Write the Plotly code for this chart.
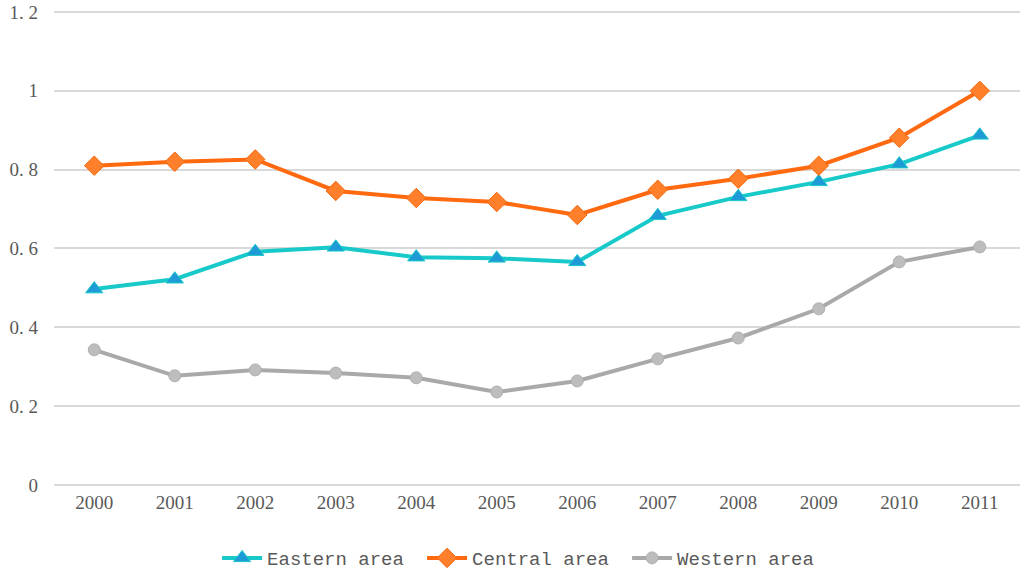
import plotly.graph_objects as go

years = ["2000", "2001", "2002", "2003", "2004", "2005", "2006", "2007", "2008", "2009", "2010", "2011"]
eastern = [0.497, 0.522, 0.592, 0.603, 0.578, 0.575, 0.566, 0.683, 0.731, 0.769, 0.814, 0.887]
central = [0.810, 0.820, 0.826, 0.746, 0.728, 0.718, 0.685, 0.749, 0.777, 0.810, 0.881, 1.000]
western = [0.343, 0.277, 0.292, 0.284, 0.272, 0.236, 0.264, 0.320, 0.373, 0.447, 0.566, 0.604]
y_ticks = [0, 0.2, 0.4, 0.6, 0.8, 1.0, 1.2]
y_tick_text = ["0", "0. 2", "0. 4", "0. 6", "0. 8", "1", "1. 2"]

SERIF = "Liberation Serif, Times New Roman, DejaVu Serif, serif"
MONO = "Liberation Mono, Courier New, DejaVu Sans Mono, monospace"
TXT = "#595959"

fig = go.Figure()
fig.add_trace(go.Scatter(
    x=years, y=eastern, name="Eastern area", mode="lines+markers",
    line=dict(color="#17C9C9", width=4),
    marker=dict(symbol="triangle-up", size=15, color="#1E9BD7", line=dict(color="#17C9C9", width=1)),
))
fig.add_trace(go.Scatter(
    x=years, y=central, name="Central area", mode="lines+markers",
    line=dict(color="#FF6A10", width=4),
    marker=dict(symbol="diamond", size=15, color="#FF7F2A", line=dict(color="#F26A10", width=1)),
))
fig.add_trace(go.Scatter(
    x=years, y=western, name="Western area", mode="lines+markers",
    line=dict(color="#A9A9A9", width=4),
    marker=dict(symbol="circle", size=12, color="#BDBDBD", line=dict(color="#B0B0B0", width=1)),
))

fig.update_layout(
    width=1024, height=570,
    margin=dict(l=54, r=4, t=10, b=85),
    paper_bgcolor="white", plot_bgcolor="white",
    font=dict(family=SERIF, size=19, color=TXT),
    xaxis=dict(type="category", range=[-0.5, 11.5], showgrid=False, showline=False,
               ticks="", automargin=False, ticklabelstandoff=4, tickangle=0,
               tickfont=dict(family=SERIF, size=19, color=TXT)),
    yaxis=dict(range=[0, 1.205], tickvals=y_ticks, ticktext=y_tick_text,
               showgrid=True, gridcolor="#D9D9D9", gridwidth=1.5, zeroline=True,
               zerolinecolor="#D9D9D9", zerolinewidth=1.5, showline=False, ticks="",
               ticklabelstandoff=15, automargin=False,
               tickfont=dict(family=SERIF, size=19, color=TXT)),
    legend=dict(orientation="h", xref="container", x=0.212, xanchor="left",
                yref="container", y=0.021, yanchor="middle",
                font=dict(family=MONO, size=19, color=TXT),
                itemwidth=40, tracegroupgap=0, entrywidth=150, entrywidthmode="pixels"),
    showlegend=True,
)
fig.write_html("out.html", config={"displayModeBar": False},
               post_script="document.body.style.margin='0px';")
